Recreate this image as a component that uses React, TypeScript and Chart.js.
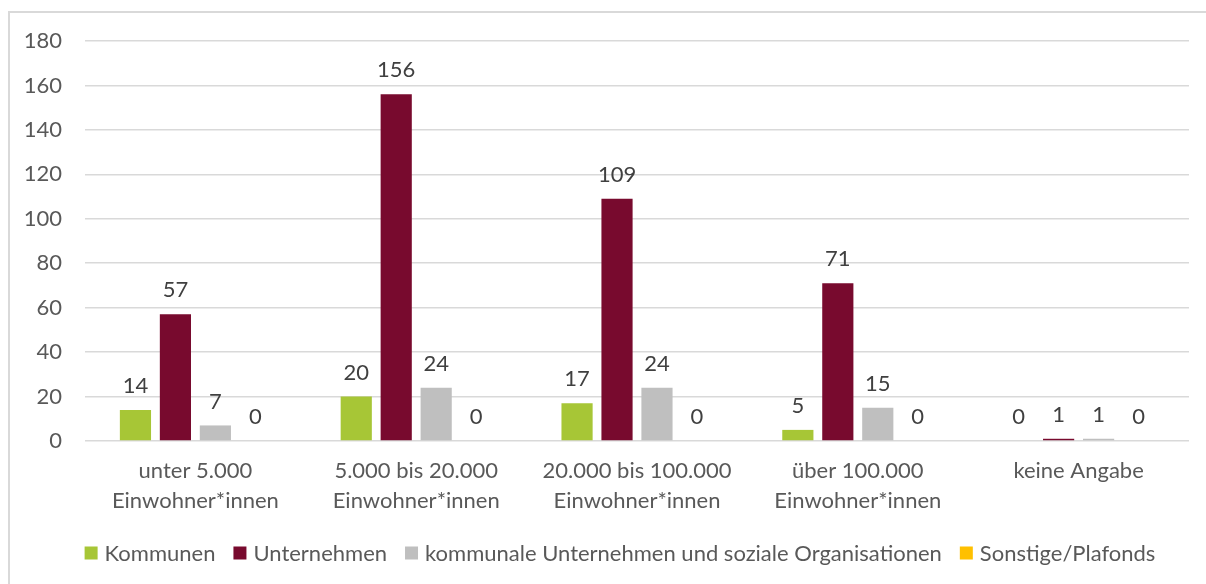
import React, { useEffect, useRef } from "react";
import { Chart, registerables } from "chart.js";

Chart.register(...registerables);

const categories: (string | string[])[] = [
  ["unter 5.000", "Einwohner*innen"],
  ["5.000 bis 20.000", "Einwohner*innen"],
  ["20.000 bis 100.000", "Einwohner*innen"],
  ["über 100.000", "Einwohner*innen"],
  "keine Angabe",
];
const seriesNames = [
  "Kommunen",
  "Unternehmen",
  "kommunale Unternehmen und soziale Organisationen",
  "Sonstige/Plafonds",
];
const kommunen = [14, 20, 17, 5, 0];
const unternehmen = [57, 156, 109, 71, 1];
const kommunaleUnternehmen = [7, 24, 24, 15, 1];
const sonstige = [0, 0, 0, 0, 0];
const seriesColors = ["#A7C636", "#780A2E", "#BFBFBF", "#FFC000"];
const yMin = 0;
const yMax = 180;
const yStep = 20;

const FONT = "Lato, 'Noto Sans', sans-serif";
const FS = 22;

const dataLabelPlugin = {
  id: "dataLabels",
  afterDatasetsDraw(chart: any) {
    const ctx = chart.ctx;
    ctx.save();
    ctx.font = `${FS}px ${FONT}`;
    ctx.fillStyle = "#404040";
    ctx.textAlign = "center";
    ctx.textBaseline = "middle";
    chart.data.datasets.forEach((ds: any, i: number) => {
      const meta = chart.getDatasetMeta(i);
      meta.data.forEach((el: any, j: number) => {
        ctx.fillText(String(ds.data[j]), el.x, el.y - 24);
      });
    });
    ctx.restore();
  },
};

// Legend drawn centred under the chart (like the original), from the dataset labels/colours
const legendPlugin = {
  id: "bottomLegend",
  afterDraw(chart: any) {
    const ctx = chart.ctx;
    const box = 13;
    const boxGap = 7;
    const itemGap = 18;
    const centerX = 620;
    const centerY = 554;
    ctx.save();
    ctx.font = `${FS}px ${FONT}`;
    ctx.textBaseline = "middle";
    ctx.textAlign = "left";
    const items = chart.data.datasets.map((ds: any) => ({
      label: ds.label as string,
      color: ds.backgroundColor as string,
      w: ctx.measureText(ds.label).width,
    }));
    const total =
      items.reduce((s: number, it: any) => s + box + boxGap + it.w, 0) + itemGap * (items.length - 1);
    let x = centerX - total / 2;
    items.forEach((it: any) => {
      ctx.fillStyle = it.color;
      ctx.fillRect(x, centerY - box / 2 - 1, box, box);
      ctx.fillStyle = "#595959";
      ctx.fillText(it.label, x + box + boxGap, centerY);
      x += box + boxGap + it.w + itemGap;
    });
    ctx.restore();
  },
};

export default function App() {
  const ref = useRef<HTMLCanvasElement>(null);
  useEffect(() => {
    if (!ref.current) return;
    const values = [kommunen, unternehmen, kommunaleUnternehmen, sonstige];
    const chart = new Chart(ref.current, {
      type: "bar",
      data: {
        labels: categories,
        datasets: seriesNames.map((name, i) => ({
          label: name,
          data: values[i],
          backgroundColor: seriesColors[i],
          borderWidth: 0,
          barPercentage: 0.78,
          categoryPercentage: 0.724,
        })),
      },
      options: {
        responsive: false,
        animation: false,
        layout: { padding: { left: 0, right: 17, top: 41, bottom: 51 } },
        plugins: {
          legend: { display: false },
          tooltip: { enabled: false },
        },
        scales: {
          x: {
            grid: { display: false },
            border: { display: false },
            ticks: {
              color: "#595959",
              font: { family: FONT, size: FS, lineHeight: "30px" },
              padding: 7,
              maxRotation: 0,
              autoSkip: false,
            },
            afterFit(scale: any) {
              scale.height = 92;
            },
          },
          y: {
            min: yMin,
            max: yMax,
            grid: { color: "#D9D9D9", lineWidth: 1.5, drawTicks: false },
            border: { display: false },
            ticks: {
              stepSize: yStep,
              color: "#595959",
              font: { family: FONT, size: FS },
              padding: 23,
            },
            afterFit(scale: any) {
              scale.width = 85;
            },
          },
        },
      },
      plugins: [dataLabelPlugin, legendPlugin],
    });
    return () => chart.destroy();
  }, []);

  return (
    <div style={{ position: "fixed", left: 0, top: 0, width: 1206, height: 584, background: "#fff", overflow: "hidden" }}>
      <div
        style={{
          position: "absolute",
          left: 8,
          top: 11,
          width: 1198,
          height: 573,
          borderLeft: "2px solid #D9D9D9",
          borderTop: "2px solid #D9D9D9",
          boxSizing: "border-box",
        }}
      />
      <canvas ref={ref} width={1206} height={584} style={{ position: "absolute", left: 0, top: 0 }} />
    </div>
  );
}
